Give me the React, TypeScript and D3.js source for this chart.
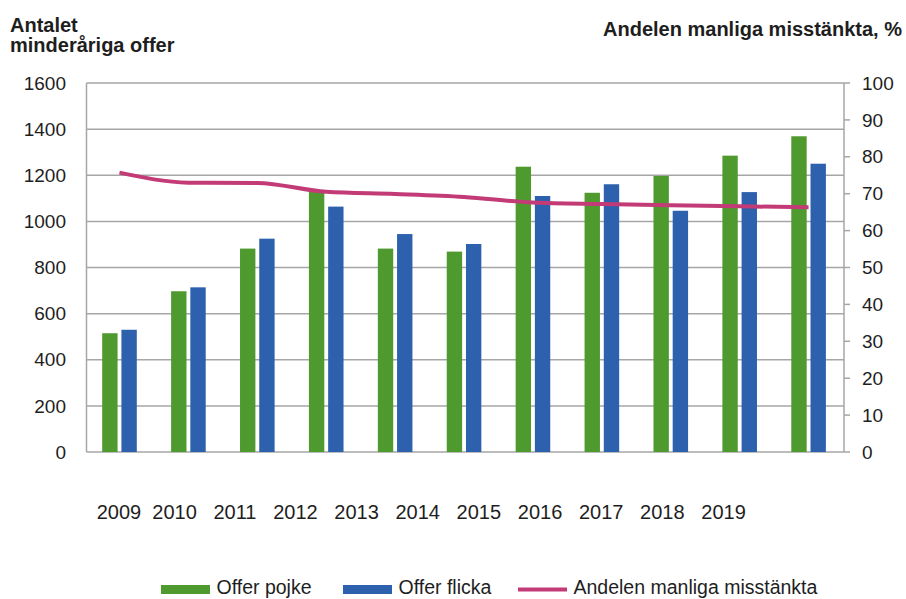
import React from "react";
import * as d3 from "d3";

const years = ["2009", "2010", "2011", "2012", "2013", "2014", "2015", "2016", "2017", "2018", "2019"];
const offerPojke = [515, 697, 882, 1135, 882, 869, 1237, 1124, 1197, 1285, 1369];
const offerFlicka = [530, 714, 925, 1064, 945, 902, 1110, 1161, 1046, 1127, 1250];
const andelManliga = [75.7, 73.0, 72.9, 70.5, 69.9, 69.1, 67.6, 67.2, 66.9, 66.6, 66.3];

const leftTicks = [0, 200, 400, 600, 800, 1000, 1200, 1400, 1600];
const rightTicks = [0, 10, 20, 30, 40, 50, 60, 70, 80, 90, 100];

const WIDTH = 906;
const HEIGHT = 599;
const FONT = "'Liberation Sans', Arial, Helvetica, sans-serif";

const GREEN = "#4f9a2f";
const BLUE = "#2e61ad";
const PINK = "#c23b76";
const GRID = "#a6a6a6";
const TEXT = "#1e1e1e";

const plot = { left: 86.5, right: 844, top: 83, bottom: 452 };

export default function App() {
  const x = d3.scaleBand<string>().domain(years).range([85, 843]);
  const inner = d3
    .scaleBand<string>()
    .domain(["pojke", "flicka"])
    .range([17.2, 51.8])
    .paddingInner(0.2);

  const yLeft = d3.scaleLinear().domain([0, 1600]).range([plot.bottom, plot.top]);
  const yRight = d3.scaleLinear().domain([0, 100]).range([plot.bottom, plot.top]);

  const line = d3
    .line<number>()
    .x((_, i) => (x(years[i]) ?? 0) + x.bandwidth() / 2)
    .y((d) => yRight(d))
    .curve(d3.curveMonotoneX);

  // year labels are one spaced-out text row in the original
  const yearRow = years[0] + "  " + years.slice(1).join("   ");

  const legend = [
    { x: 161, label: "Offer pojke", color: GREEN, kind: "rect" },
    { x: 343, label: "Offer flicka", color: BLUE, kind: "rect" },
    { x: 518, label: "Andelen manliga misstänkta", color: PINK, kind: "line" },
  ];

  return (
    <svg
      width={WIDTH}
      height={HEIGHT}
      style={{ position: "absolute", left: 0, top: 0, background: "#fff" }}
      fontFamily={FONT}
    >
      <rect width={WIDTH} height={HEIGHT} fill="#fff" />

      {/* titles */}
      <text x={10} y={32} fontSize={20} fontWeight="bold" fill={TEXT}>
        Antalet
      </text>
      <text x={10} y={52} fontSize={20} fontWeight="bold" fill={TEXT}>
        minderåriga offer
      </text>
      <text x={902} y={36} fontSize={20} fontWeight="bold" fill={TEXT} textAnchor="end">
        Andelen manliga misstänkta, %
      </text>

      {/* gridlines */}
      <g>
        {leftTicks.map((t) => (
          <line
            key={t}
            x1={plot.left}
            x2={plot.right}
            y1={yLeft(t)}
            y2={yLeft(t)}
            stroke={GRID}
            strokeWidth={1.5}
          />
        ))}
        <line x1={plot.left} x2={plot.left} y1={plot.top} y2={plot.bottom} stroke={GRID} strokeWidth={1.5} />
        <line x1={plot.right} x2={plot.right} y1={plot.top} y2={plot.bottom} stroke={GRID} strokeWidth={1.5} />
        {rightTicks.map((t) => (
          <line
            key={t}
            x1={plot.right}
            x2={plot.right + 6}
            y1={yRight(t)}
            y2={yRight(t)}
            stroke={GRID}
            strokeWidth={1.5}
          />
        ))}
      </g>

      {/* left axis labels */}
      <g fontSize={19} fill={TEXT} textAnchor="end">
        {leftTicks.map((t) => (
          <text key={t} x={66} y={yLeft(t)} dy="0.35em">
            {t}
          </text>
        ))}
      </g>

      {/* right axis labels */}
      <g fontSize={19} fill={TEXT}>
        {rightTicks.map((t) => (
          <text key={t} x={862} y={yRight(t)} dy="0.35em">
            {t}
          </text>
        ))}
      </g>

      {/* bars */}
      <g>
        {years.map((yr, i) => {
          const bx = x(yr) ?? 0;
          return (
            <g key={yr}>
              <rect
                x={bx + (inner("pojke") ?? 0)}
                y={yLeft(offerPojke[i])}
                width={inner.bandwidth()}
                height={plot.bottom - yLeft(offerPojke[i])}
                fill={GREEN}
              />
              <rect
                x={bx + (inner("flicka") ?? 0)}
                y={yLeft(offerFlicka[i])}
                width={inner.bandwidth()}
                height={plot.bottom - yLeft(offerFlicka[i])}
                fill={BLUE}
              />
            </g>
          );
        })}
      </g>

      {/* share line */}
      <path d={line(andelManliga) ?? ""} fill="none" stroke={PINK} strokeWidth={4} />

      {/* year labels */}
      <text x={96.7} y={519} fontSize={20} fill={TEXT} style={{ whiteSpace: "pre" }}>
        {yearRow}
      </text>

      {/* legend */}
      <g fontSize={19.5} fill={TEXT}>
        {legend.map((l) => (
          <g key={l.label} transform={`translate(${l.x},0)`}>
            {l.kind === "rect" ? (
              <rect x={0} y={585} width={49} height={9} fill={l.color} />
            ) : (
              <line x1={0} x2={49} y1={589.5} y2={589.5} stroke={l.color} strokeWidth={4} />
            )}
            <text x={55.5} y={594}>
              {l.label}
            </text>
          </g>
        ))}
      </g>
    </svg>
  );
}
